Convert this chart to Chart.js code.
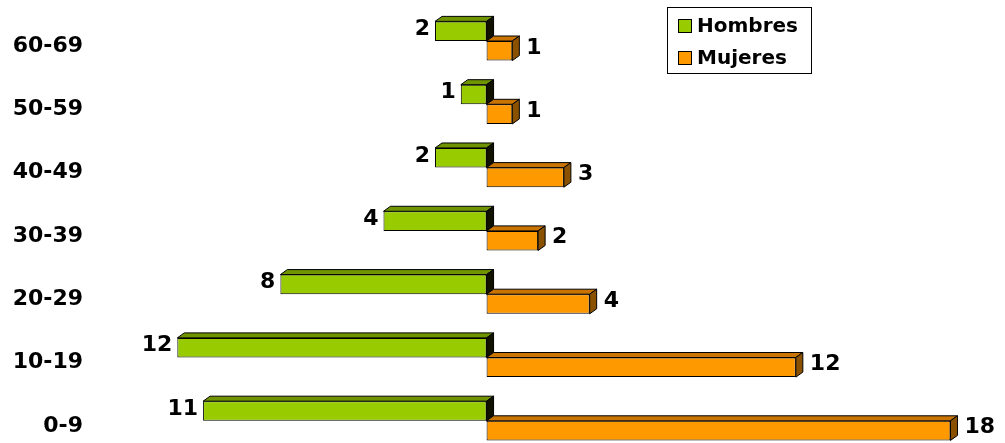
<!DOCTYPE html>
<html>
<head>
<meta charset="utf-8">
<script src="https://cdn.jsdelivr.net/npm/chart.js@4"></script>
<style>
  html, body { margin: 0; padding: 0; background: #fff; }
  #wrap { width: 1005px; height: 443px; }
</style>
</head>
<body>
<div id="wrap"><canvas id="graph"></canvas></div>
<script>
// grupos de edad, de arriba a abajo
var edades = ["60-69", "50-59", "40-49", "30-39", "20-29", "10-19", "0-9"];
var hombres = [2, 1, 2, 4, 8, 12, 11];
var mujeres = [1, 1, 3, 2, 4, 12, 18];

// colores: frente, techo, lado
var verde = ["#99cc00", "#6f9400", "#111100"];
var naranja = ["#ff9900", "#c97400", "#8a5200"];

var familia = "'DejaVu Sans', 'Liberation Sans', Arial, sans-serif";
var DX = 7, DY = 5;

// caras 3D + etiquetas + leyenda
const efecto3d = {
  id: "efecto3d",
  afterDatasetsDraw(chart) {
    const ctx = chart.ctx;
    ctx.save();
    ctx.lineWidth = 1;
    ctx.strokeStyle = "#000";
    for (let i = 0; i < edades.length; i++) {
      [0, 1].forEach(function (d) {
        const bar = chart.getDatasetMeta(d).data[i];
        const col = d == 0 ? verde : naranja;
        const izq = Math.min(bar.x, bar.base);
        const der = Math.max(bar.x, bar.base);
        const arriba = bar.y - bar.height / 2;
        const abajo = bar.y + bar.height / 2;
        // techo
        ctx.beginPath();
        ctx.moveTo(izq, arriba);
        ctx.lineTo(izq + DX, arriba - DY);
        ctx.lineTo(der + DX, arriba - DY);
        ctx.lineTo(der, arriba);
        ctx.closePath();
        ctx.fillStyle = col[1];
        ctx.fill();
        ctx.stroke();
        // lado
        ctx.beginPath();
        ctx.moveTo(der, arriba);
        ctx.lineTo(der + DX, arriba - DY);
        ctx.lineTo(der + DX, abajo - DY);
        ctx.lineTo(der, abajo);
        ctx.closePath();
        ctx.fillStyle = col[2];
        ctx.fill();
        ctx.stroke();
      });
    }
    // etiquetas de valores
    ctx.font = "bold 22px " + familia;
    ctx.fillStyle = "#000";
    ctx.textBaseline = "middle";
    chart.getDatasetMeta(0).data.forEach(function (bar, i) {
      ctx.textAlign = "right";
      ctx.fillText(String(hombres[i]), bar.x - 5, bar.y - 2);
    });
    chart.getDatasetMeta(1).data.forEach(function (bar, i) {
      ctx.textAlign = "left";
      ctx.fillText(String(mujeres[i]), bar.x + 14, bar.y - 3);
    });
    // leyenda con marco
    const lx = 667, ly = 7, lw = 144, lh = 66;
    ctx.fillStyle = "#fff";
    ctx.fillRect(lx, ly, lw, lh);
    ctx.strokeRect(lx + 0.5, ly + 0.5, lw, lh);
    chart.data.datasets.forEach(function (ds, k) {
      const y = ly + 19 + k * 32;
      ctx.fillStyle = ds.backgroundColor;
      ctx.fillRect(lx + 11, y - 7, 14, 14);
      ctx.strokeRect(lx + 11.5, y - 6.5, 13, 13);
      ctx.fillStyle = "#000";
      ctx.textAlign = "left";
      ctx.font = "bold 20px " + familia;
      ctx.fillText(ds.label, lx + 30, y + 1);
    });
    ctx.restore();
  },
};

const grafico = new Chart(document.getElementById("graph"), {
  type: "bar",
  data: {
    labels: edades,
    datasets: [
      {
        label: "Hombres",
        data: hombres.map((v) => -v),
        backgroundColor: verde[0],
        borderColor: "#000",
        borderWidth: 1,
        borderSkipped: false,
        clip: false,
      },
      {
        label: "Mujeres",
        data: mujeres,
        backgroundColor: naranja[0],
        borderColor: "#000",
        borderWidth: 1,
        borderSkipped: false,
        clip: false,
      },
    ],
  },
  options: {
    indexAxis: "y",
    responsive: true,
    maintainAspectRatio: false,
    animation: false,
    categoryPercentage: 0.62,
    barPercentage: 1,
    layout: { padding: { top: 41, bottom: 12, right: 3, left: 0 } },
    plugins: {
      legend: { display: false },
      tooltip: { enabled: false },
    },
    scales: {
      x: { display: false, min: -15, max: 20 },
      y: {
        offset: false,
        grid: { display: false },
        border: { display: false },
        afterFit: (scale) => { scale.width = 100; },
        ticks: {
          color: "#000",
          padding: 9,
          labelOffset: 5,
          font: { family: familia, size: 22, weight: "bold" },
        },
      },
    },
  },
  plugins: [efecto3d],
});
</script>
</body>
</html>
